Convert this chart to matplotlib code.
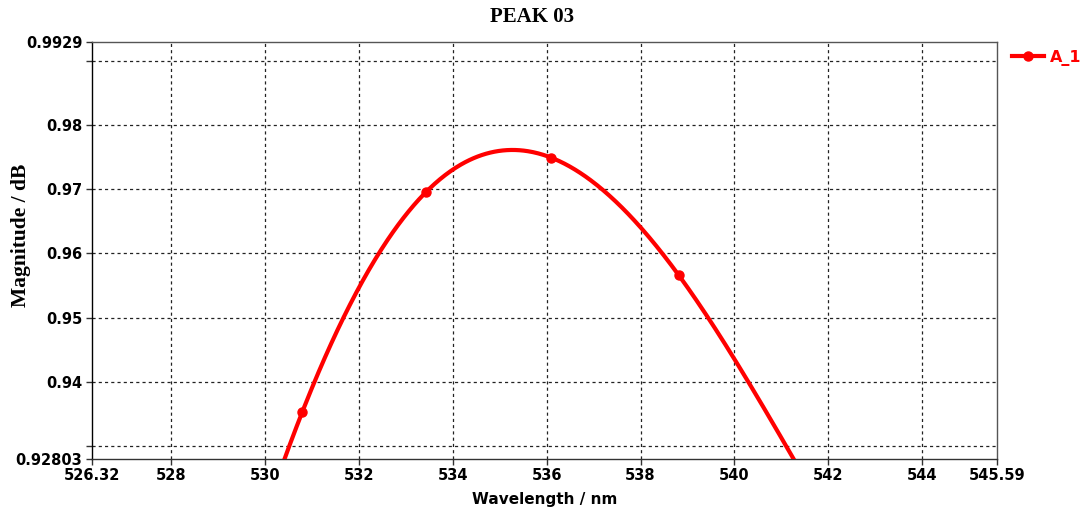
import numpy as np
import matplotlib
matplotlib.use("Agg")
import matplotlib.pyplot as plt

# Data
wavelength = [528.14, 530.80, 533.44, 536.10, 538.81, 541.48]
magnitude = [0.8760, 0.93535, 0.96960, 0.97489, 0.95663, 0.9252]
series_name = "A_1"
x_min, x_max = 526.32, 545.59
y_min, y_max = 0.92803, 0.9929
x_ticks = [528, 530, 532, 534, 536, 538, 540, 542, 544]
y_ticks = [0.93, 0.94, 0.95, 0.96, 0.97, 0.98, 0.99]


def natural_cubic_spline(x, y, xs):
    x = np.asarray(x, float)
    y = np.asarray(y, float)
    n = len(x)
    h = np.diff(x)
    A = np.zeros((n, n))
    b = np.zeros(n)
    A[0, 0] = 1
    A[-1, -1] = 1
    for i in range(1, n - 1):
        A[i, i - 1] = h[i - 1]
        A[i, i] = 2 * (h[i - 1] + h[i])
        A[i, i + 1] = h[i]
        b[i] = 6 * ((y[i + 1] - y[i]) / h[i] - (y[i] - y[i - 1]) / h[i - 1])
    M = np.linalg.solve(A, b)
    idx = np.clip(np.searchsorted(x, xs) - 1, 0, n - 2)
    x0, x1 = x[idx], x[idx + 1]
    hh = x1 - x0
    t0 = x1 - xs
    t1 = xs - x0
    return (M[idx] * t0 ** 3 / (6 * hh) + M[idx + 1] * t1 ** 3 / (6 * hh)
            + (y[idx] / hh - M[idx] * hh / 6) * t0
            + (y[idx + 1] / hh - M[idx + 1] * hh / 6) * t1)


fig = plt.figure(figsize=(10.85, 5.14), dpi=100)
ax = fig.add_axes([92 / 1085, 1 - 458.7 / 514, (997 - 92) / 1085, (458.7 - 42) / 514])

xs = np.linspace(wavelength[0], wavelength[-1], 600)
ys = natural_cubic_spline(wavelength, magnitude, xs)
red = "#ff0000"
ax.plot(xs, ys, color=red, lw=3.0, solid_capstyle="butt", zorder=3)
ax.plot(wavelength, magnitude, "o", color=red, ms=6.5, zorder=4)
handle, = ax.plot([], [], color=red, lw=3.0, marker="o", ms=6.5, label=series_name)

ax.set_xlim(x_min, x_max)
ax.set_ylim(y_min, y_max)

xt = [x_min] + x_ticks + [x_max]
ax.set_xticks(xt)
ax.set_xticklabels([f"{v:g}" for v in xt])
yt = [y_min] + y_ticks + [y_max]
ax.set_yticks(yt)
ylabs = [f"{v:g}" for v in yt]
ylabs[1] = ""
ylabs[-2] = ""
ax.set_yticklabels(ylabs)

for v in x_ticks:
    ax.axvline(v, color="#222222", lw=0.9, ls=(0, (2.5, 2.5)), zorder=1)
for v in y_ticks:
    ax.axhline(v, color="#222222", lw=0.9, ls=(0, (2.5, 2.5)), zorder=1)

ax.tick_params(axis="both", direction="out", length=4, width=1, color="#333333",
               labelsize=10.5, pad=3)
for lab in ax.get_xticklabels() + ax.get_yticklabels():
    lab.set_fontweight("bold")
    lab.set_family("DejaVu Sans")

ax.spines["left"].set_color("black")
ax.spines["bottom"].set_color("#333333")
ax.spines["top"].set_color("#555555")
ax.spines["right"].set_color("#555555")
for s in ax.spines.values():
    s.set_linewidth(1.0)

ax.set_xlabel("Wavelength / nm", fontsize=11, fontweight="bold", family="DejaVu Sans", labelpad=6)
fig.text(21 / 1085, 1 - 235 / 514, "Magnitude / dB", rotation=90, ha="center", va="center",
         fontsize=15.5, fontweight="bold", family="Liberation Serif")
fig.text(0.49, 1 - 17 / 514, "PEAK 03", ha="center", va="center", fontsize=15,
         fontweight="bold", family="Liberation Serif")

leg = fig.legend(handles=[handle], loc="upper left", bbox_to_anchor=(1012 / 1085, 1 - 50 / 514),
                 frameon=False, handlelength=2.0, handletextpad=0.35, borderaxespad=0,
                 borderpad=0, prop={"family": "DejaVu Sans", "weight": "bold", "size": 11.5})
for t in leg.get_texts():
    t.set_color(red)

fig.savefig("out.png", dpi=100)
